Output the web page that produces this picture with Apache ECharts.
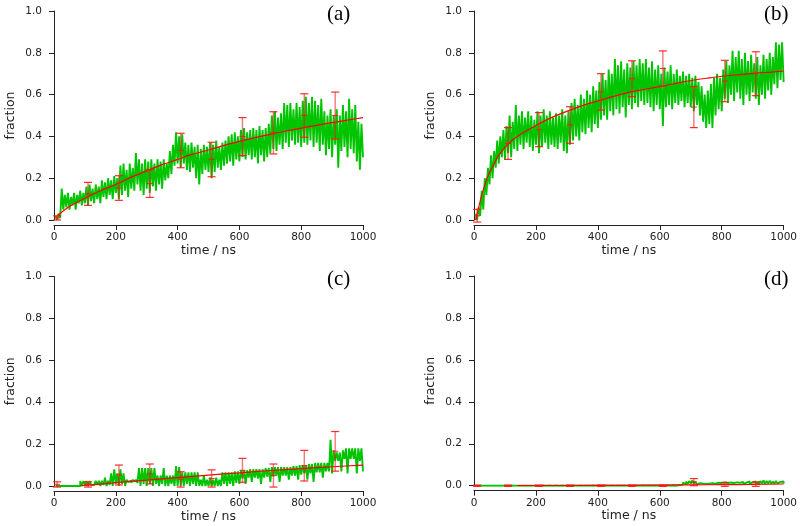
<!DOCTYPE html>
<html><head><meta charset="utf-8">
<script src="https://cdn.jsdelivr.net/npm/echarts@6/dist/echarts.min.js"></script>
<style>html,body{margin:0;padding:0;background:#fff}#c{width:800px;height:526px}</style>
</head><body><div id="c"></div>
<script>
const xTicks = [0, 200, 400, 600, 800, 1000];
const yTicks = [0.0, 0.2, 0.4, 0.6, 0.8, 1.0];
const panelLabels = ['(a)', '(b)', '(c)', '(d)'];
const xName = 'time / ns';
const yName = 'fraction';
const errTimes = [10, 110, 210, 310, 410, 510, 610, 710, 810, 910];

// Green traces: "Hi" samples at t = 5,15,...,995 ; "Lo" samples at t = 10,20,...,1000
const aHi = [0.02,0.03,0.15,0.12,0.13,0.11,0.13,0.12,0.14,0.13,
 0.16,0.17,0.15,0.17,0.16,0.19,0.18,0.20,0.19,0.21,
 0.20,0.26,0.27,0.24,0.27,0.25,0.32,0.29,0.27,0.29,
 0.28,0.29,0.27,0.29,0.28,0.29,0.27,0.33,0.36,0.42,
 0.40,0.41,0.37,0.36,0.37,0.35,0.36,0.34,0.36,0.35,
 0.37,0.36,0.38,0.35,0.37,0.38,0.40,0.41,0.42,0.40,
 0.43,0.44,0.42,0.43,0.44,0.43,0.45,0.43,0.44,0.46,
 0.50,0.52,0.49,0.51,0.56,0.55,0.56,0.53,0.56,0.54,
 0.57,0.59,0.56,0.59,0.57,0.55,0.58,0.52,0.50,0.53,
 0.50,0.53,0.50,0.55,0.52,0.58,0.53,0.55,0.47,0.46];
const aLo = [0.00,0.01,0.05,0.06,0.05,0.07,0.05,0.08,0.07,0.08,
 0.07,0.09,0.08,0.10,0.08,0.11,0.10,0.12,0.10,0.13,
 0.10,0.12,0.14,0.11,0.15,0.14,0.17,0.14,0.12,0.15,
 0.13,0.16,0.14,0.17,0.15,0.19,0.20,0.22,0.26,0.27,
 0.25,0.27,0.24,0.23,0.25,0.20,0.17,0.22,0.24,0.23,
 0.20,0.23,0.25,0.24,0.26,0.27,0.28,0.26,0.29,0.28,
 0.30,0.29,0.31,0.29,0.30,0.27,0.31,0.28,0.30,0.32,
 0.34,0.33,0.36,0.34,0.37,0.35,0.38,0.36,0.37,0.35,
 0.37,0.36,0.38,0.35,0.37,0.33,0.36,0.31,0.34,0.30,
 0.36,0.25,0.33,0.35,0.30,0.34,0.32,0.28,0.24,0.30];
const bHi = [0.03,0.06,0.14,0.20,0.25,0.31,0.33,0.38,0.40,0.43,
 0.45,0.50,0.47,0.55,0.50,0.52,0.49,0.52,0.50,0.48,
 0.52,0.50,0.53,0.50,0.52,0.49,0.51,0.50,0.53,0.50,
 0.52,0.56,0.58,0.55,0.60,0.58,0.62,0.60,0.64,0.62,
 0.66,0.70,0.67,0.72,0.70,0.77,0.74,0.76,0.72,0.75,
 0.73,0.76,0.74,0.77,0.75,0.77,0.73,0.76,0.72,0.74,
 0.70,0.73,0.71,0.74,0.70,0.72,0.69,0.71,0.69,0.70,
 0.68,0.69,0.66,0.64,0.60,0.62,0.65,0.68,0.70,0.68,
 0.72,0.76,0.74,0.81,0.78,0.81,0.77,0.80,0.76,0.79,
 0.75,0.78,0.74,0.79,0.77,0.80,0.78,0.85,0.84,0.85];
const bLo = [0.00,0.02,0.05,0.12,0.17,0.20,0.25,0.27,0.30,0.29,
 0.32,0.30,0.34,0.33,0.36,0.34,0.37,0.35,0.33,0.36,
 0.32,0.35,0.37,0.34,0.36,0.35,0.34,0.37,0.33,0.32,
 0.36,0.38,0.40,0.38,0.42,0.41,0.44,0.42,0.46,0.44,
 0.48,0.50,0.48,0.52,0.50,0.53,0.51,0.54,0.49,0.55,
 0.53,0.56,0.54,0.57,0.55,0.56,0.54,0.52,0.55,0.53,
 0.45,0.54,0.55,0.53,0.56,0.55,0.57,0.54,0.56,0.54,
 0.52,0.55,0.50,0.47,0.44,0.46,0.44,0.50,0.53,0.52,
 0.58,0.56,0.60,0.57,0.61,0.58,0.55,0.60,0.57,0.61,
 0.58,0.55,0.60,0.58,0.62,0.60,0.65,0.63,0.67,0.66];
const cHi = [0,0,0,0,0,0,0,0,0.024,0.024,
 0.024,0.024,0.005,0.025,0.025,0.025,0.04,0.025,0.06,0.08,
 0.06,0.08,0.06,0.03,0.025,0.03,0.03,0.085,0.085,0.085,
 0.085,0.085,0.085,0.05,0.05,0.085,0.05,0.05,0.05,0.095,
 0.09,0.065,0.065,0.065,0.065,0.065,0.065,0.03,0.05,0.03,
 0.04,0.03,0.04,0.03,0.065,0.065,0.065,0.065,0.07,0.07,
 0.075,0.075,0.075,0.08,0.08,0.08,0.08,0.08,0.085,0.085,
 0.09,0.09,0.09,0.09,0.09,0.09,0.09,0.095,0.095,0.10,
 0.10,0.10,0.105,0.105,0.11,0.11,0.11,0.11,0.11,0.22,
 0.17,0.16,0.16,0.17,0.18,0.18,0.18,0.18,0.18,0.18];
const cLo = [0,0,0,0,0,0,0,0,0,0.005,
 0,0.005,0,0.005,0,0.005,0,0.005,0,0.01,
 0,0.01,0,0.02,0.015,0.02,0.015,0,0.01,0,
 0.01,0,0.01,0,0.01,0,0,0.01,0,0,
 0,0,0.01,0,0.01,0,0,0,0,0,
 0,0,0,0,0.01,0,0.01,0,0.015,0.01,
 0.035,0.01,0.04,0.02,0.04,0.035,0.01,0.04,0.045,0.02,
 0.045,0.05,0.02,0.05,0.05,0.03,0.05,0.05,0.03,0.055,
 0.06,0.03,0.06,0.02,0.065,0.065,0.04,0.07,0.07,0.06,
 0.12,0.12,0.07,0.13,0.06,0.13,0.13,0.06,0.12,0.07];
const dHi = [0,0,0,0,0,0,0,0,0,0,
 0,0,0,0,0,0,0,0,0,0,
 0.003,0.002,0.003,0.004,0.003,0.002,0.003,0.004,0.003,0.003,
 0.004,0.003,0.002,0.004,0.003,0.004,0.003,0.002,0.004,0.003,
 0.004,0.005,0.003,0.004,0.003,0.005,0.004,0.003,0.004,0.005,
 0.003,0.004,0.005,0.004,0.003,0.004,0.005,0.003,0.004,0.005,
 0.004,0.003,0.005,0.004,0.005,0.007,0.010,0.015,0.020,0.022,
 0.025,0.020,0.012,0.010,0.008,0.010,0.012,0.010,0.014,0.012,
 0.015,0.012,0.015,0.013,0.016,0.014,0.018,0.015,0.020,0.016,
 0.020,0.018,0.022,0.025,0.022,0.024,0.020,0.022,0.018,0.020];
const dLo = [0,0,0,0,0,0,0,0,0,0,
 0,0,0,0,0,0,0,0,0,0,
 0,0.001,0,0.001,0,0.001,0,0.001,0,0.001,
 0,0.001,0,0.001,0,0.001,0,0.001,0,0.001,
 0,0.001,0,0.001,0,0.001,0,0.001,0,0.001,
 0,0.001,0,0.001,0,0.001,0,0.001,0,0.001,
 0,0.001,0,0.001,0,0.003,0.005,0.006,0.008,0.010,
 0.009,0.006,0.004,0.005,0.004,0.005,0.006,0.005,0.006,0.005,
 0.007,0.006,0.007,0.005,0.008,0.006,0.008,0.007,0.009,0.007,
 0.010,0.008,0.011,0.009,0.010,0.010,0.009,0.011,0.009,0.010];

// Fit curves (red)
const aFitT = [10,50,100,150,200,250,300,350,400,450,500,550,600,650,700,750,800,850,900,950,1000];
const aFitV = [0.02,0.065,0.105,0.14,0.17,0.205,0.235,0.265,0.29,0.315,0.335,0.357,0.376,0.394,0.41,0.426,0.44,0.453,0.466,0.478,0.49];
const bFitT = [5,13,20,30,45,60,80,110,150,200,250,310,360,410,460,510,560,610,660,710,760,810,860,910,960,1000];
const bFitV = [0.0,0.048,0.09,0.145,0.21,0.255,0.31,0.364,0.41,0.452,0.49,0.526,0.552,0.574,0.595,0.614,0.628,0.641,0.656,0.67,0.68,0.689,0.696,0.703,0.708,0.713];
const cFitT = [84,110,150,200,300,400,500,600,700,800,900,1000];
const cFitV = [0,0.004,0.009,0.016,0.028,0.04,0.052,0.063,0.074,0.083,0.092,0.1];
const dFitT = [140,300,500,600,700,800,900,1000];
const dFitV = [0,0.001,0.002,0.003,0.004,0.005,0.006,0.008];

// Error bars at errTimes
const aErrLo = [0.0,0.07,0.094,0.108,0.25,0.207,0.308,0.316,0.396,0.388];
const aErrHi = [0.02,0.18,0.212,0.24,0.415,0.372,0.49,0.518,0.604,0.612];
const aErrMid = [0.01,0.125,0.153,0.174,0.333,0.29,0.4,0.417,0.5,0.5];
const bErrLo = [-0.01,0.29,0.351,0.367,0.526,0.59,0.641,0.442,0.566,0.595];
const bErrHi = [0.051,0.442,0.514,0.542,0.70,0.762,0.809,0.638,0.764,0.805];
const bErrMid = [0.02,0.366,0.432,0.455,0.613,0.676,0.725,0.54,0.665,0.70];
const cErrLo = [-0.005,-0.005,0.005,0.01,-0.005,-0.005,0.018,-0.005,0.024,0.071];
const cErrHi = [0.02,0.02,0.1,0.105,0.068,0.077,0.132,0.105,0.17,0.26];
const cErrMid = [0.008,0.008,0.053,0.058,0.032,0.036,0.075,0.05,0.097,0.166];
const dErrLo = [-0.003,-0.003,-0.003,-0.003,-0.003,-0.003,-0.003,0.0,-0.003,-0.003];
const dErrHi = [0.003,0.003,0.003,0.003,0.003,0.003,0.003,0.034,0.016,0.018];
const dErrMid = [0,0,0,0,0,0,0,0.017,0.006,0.007];

const panels = [
  {hi:aHi, lo:aLo, fitT:aFitT, fitV:aFitV, eLo:aErrLo, eHi:aErrHi, eMid:aErrMid},
  {hi:bHi, lo:bLo, fitT:bFitT, fitV:bFitV, eLo:bErrLo, eHi:bErrHi, eMid:bErrMid},
  {hi:cHi, lo:cLo, fitT:cFitT, fitV:cFitV, eLo:cErrLo, eHi:cErrHi, eMid:cErrMid},
  {hi:dHi, lo:dLo, fitT:dFitT, fitV:dFitV, eLo:dErrLo, eHi:dErrHi, eMid:dErrMid}
];

const gridBoxes = [
  {left:54, top:11, width:309, height:209},
  {left:474, top:11, width:310, height:209},
  {left:54, top:276.5, width:309, height:209.5},
  {left:474, top:276, width:310, height:209.7}
];
const labelPos = [[327,4],[764,4],[327,269],[764,269]];

const chart = echarts.init(document.getElementById('c'), null, {renderer:'canvas'});
const font = 'DejaVu Sans';
const grid = [], xAxis = [], yAxis = [], series = [], title = [];

function errRender(params, api) {
  const x = api.value(0), lo = api.value(1), hi = api.value(2), mid = api.value(3);
  const pLo = api.coord([x, lo]), pHi = api.coord([x, hi]), pMid = api.coord([x, mid]);
  const w = 4;
  return {type:'group', children:[
    {type:'line', shape:{x1:pLo[0], y1:pLo[1], x2:pHi[0], y2:pHi[1]}, style:{stroke:'rgba(235,30,30,0.6)', lineWidth:1.4}},
    {type:'line', shape:{x1:pHi[0]-w, y1:pHi[1], x2:pHi[0]+w, y2:pHi[1]}, style:{stroke:'rgba(255,20,20,0.9)', lineWidth:1.2}},
    {type:'line', shape:{x1:pLo[0]-w, y1:pLo[1], x2:pLo[0]+w, y2:pLo[1]}, style:{stroke:'rgba(255,20,20,0.9)', lineWidth:1.2}},
    {type:'line', shape:{x1:pMid[0]-3, y1:pMid[1], x2:pMid[0]+3, y2:pMid[1]}, style:{stroke:'rgba(255,20,20,0.9)', lineWidth:1}}
  ]};
}

panels.forEach((p, k) => {
  grid.push(Object.assign({containLabel:false}, gridBoxes[k]));
  xAxis.push({
    type:'value', gridIndex:k, min:xTicks[0], max:xTicks[xTicks.length-1], interval:xTicks[1]-xTicks[0],
    offset:5,
    axisLine:{show:true, onZero:false, lineStyle:{color:'#222', width:1}},
    axisTick:{show:true, length:5, lineStyle:{color:'#222'}},
    axisLabel:{fontFamily:font, fontSize:10.5, color:'#222', margin:7, formatter:v => String(v)},
    splitLine:{show:false},
    name:xName, nameLocation:'middle', nameGap:19,
    nameTextStyle:{fontFamily:font, fontSize:12.5, color:'#222'}
  });
  yAxis.push({
    type:'value', gridIndex:k, min:yTicks[0], max:yTicks[yTicks.length-1], interval:0.2,
    offset:4,
    axisLine:{show:true, lineStyle:{color:'#222', width:1}},
    axisTick:{show:true, length:5, lineStyle:{color:'#222'}},
    axisLabel:{fontFamily:font, fontSize:10.5, color:'#222', margin:8, formatter:v => v.toFixed(1)},
    splitLine:{show:false},
    name:yName, nameLocation:'middle', nameGap:33, nameRotate:90,
    nameTextStyle:{fontFamily:font, fontSize:12.5, color:'#222'}
  });
  const green = [];
  for (let i = 0; i < p.hi.length; i++) {
    green.push([5 + 10*i, p.hi[i]]);
    green.push([10 + 10*i, p.lo[i]]);
  }
  series.push({
    type:'line', xAxisIndex:k, yAxisIndex:k, data:green, symbol:'none', silent:true, step:'end',
    sampling:null, lineStyle:{color:'#00c400', width:1.9}, z:2, animation:false
  });
  series.push({
    type:'line', xAxisIndex:k, yAxisIndex:k, data:p.fitT.map((t,i)=>[t,p.fitV[i]]), symbol:'none',
    smooth:0.3, lineStyle:{color:'#ff0000', width:1.2}, z:3, animation:false
  });
  series.push({
    type:'custom', xAxisIndex:k, yAxisIndex:k, renderItem:errRender, clip:false,
    data:errTimes.map((t,i)=>[t, p.eLo[i], p.eHi[i], p.eMid[i]]),
    encode:{x:0, y:[1,2]}, z:4, animation:false
  });
  title.push({text:panelLabels[k], left:labelPos[k][0], top:labelPos[k][1], padding:0,
    textStyle:{fontFamily:'Liberation Serif', fontSize:21, fontWeight:'normal', color:'#000'}});
});

chart.setOption({animation:false, backgroundColor:'#fff', title, grid, xAxis, yAxis, series});
</script></body></html>
